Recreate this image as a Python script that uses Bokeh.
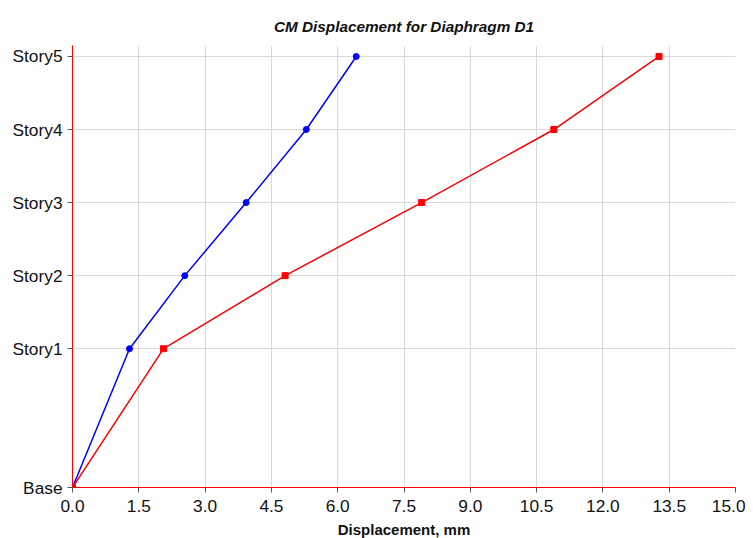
from bokeh.plotting import figure
from bokeh.models import FixedTicker, Range1d
from bokeh.embed import file_html
from bokeh.resources import INLINE

story_labels = ["Base", "Story1", "Story2", "Story3", "Story4", "Story5"]
story_elev = [0.0, 5.7, 8.7, 11.7, 14.7, 17.7]
disp_x = [0.0, 1.29, 2.54, 3.93, 5.29, 6.42]
disp_y = [0.0, 2.06, 4.81, 7.90, 10.89, 13.27]
x_ticks = [0.0, 1.5, 3.0, 4.5, 6.0, 7.5, 9.0, 10.5, 12.0, 13.5, 15.0]

p = figure(frame_width=663, frame_height=442, output_backend="svg", toolbar_location=None,
           x_range=Range1d(0, 15), y_range=Range1d(0, 18.15),
           min_border_left=72, min_border_right=10, min_border_top=45, min_border_bottom=10)
p.title.text = "CM Displacement for Diaphragm D1"
p.title.align = "center"
p.title.text_font = "Liberation Sans"
p.title.text_font_style = "bold italic"
p.title.text_font_size = "15.3px"
p.title.text_color = "#111111"
p.title.standoff = 22
p.outline_line_color = None

p.xaxis.ticker = FixedTicker(ticks=x_ticks)
p.xaxis.major_label_overrides = {t: f"{t:.1f}" for t in x_ticks}
p.yaxis.ticker = FixedTicker(ticks=story_elev)
p.yaxis.major_label_overrides = {e: l for e, l in zip(story_elev, story_labels)}
p.xaxis.axis_label = "Displacement, mm"
p.xaxis.axis_label_text_font = "Liberation Sans"
p.xaxis.axis_label_text_font_style = "bold"
p.xaxis.axis_label_text_font_size = "15px"
p.xaxis.axis_label_text_color = "#111111"
p.xaxis.axis_label_standoff = 6
for ax in (p.xaxis, p.yaxis):
    ax.axis_line_color = "red"
    ax.axis_line_width = 1
    ax.major_label_text_font = "Liberation Sans"
    ax.major_label_text_font_size = "17.3px"
    ax.major_label_text_color = "#111111"
    ax.major_tick_line_color = "#555555"
    ax.major_tick_out = 5
    ax.major_tick_in = 0
    ax.minor_tick_line_color = None
p.xaxis.major_label_standoff = 7
p.yaxis.major_label_standoff = 5
p.grid.grid_line_color = "#d9d9d9"
p.grid.grid_line_width = 1

p.line(disp_x, story_elev, line_color="blue", line_width=1.5)
p.scatter(disp_x, story_elev, marker="circle", size=6, fill_color="blue", line_color="blue")
p.line(disp_y, story_elev, line_color="red", line_width=1.5)
p.scatter(disp_y, story_elev, marker="square", size=6, fill_color="red", line_color="red")

open("out.html", "w").write(file_html(p, INLINE))
